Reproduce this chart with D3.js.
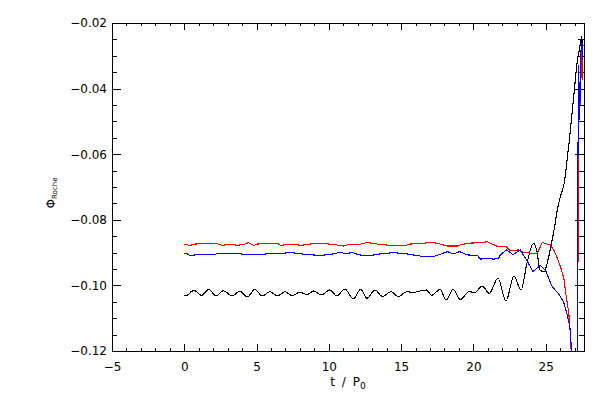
<!DOCTYPE html>
<html>
<head>
<meta charset="utf-8">
<script src="https://cdn.jsdelivr.net/npm/d3@7"></script>
<style>
  html, body { margin: 0; padding: 0; background: #fff; }
  svg { display: block; }
  text { font-family: "DejaVu Sans", "Liberation Sans", sans-serif; fill: #000; }
</style>
</head>
<body>
<svg id="chart" width="600" height="400"></svg>
<script>
// ---- data ----
const xTicks = [-5, 0, 5, 10, 15, 20, 25];
const yTicks = [-0.12, -0.10, -0.08, -0.06, -0.04, -0.02];

const blackT = [0, 0.3, 0.45, 0.72, 1.2, 1.68, 2.22, 2.7, 3.3, 3.84, 4.37, 4.88, 5.4, 5.92, 6.45, 6.98, 7.44, 8.0, 8.5, 8.94, 9.5, 10.05, 10.56, 11.1, 11.7, 12.2, 12.64, 13.2, 13.7, 14.3, 14.8, 15.4, 15.8, 16.2, 16.75, 17.1, 17.7, 18.1, 18.6, 19.1, 19.7, 20.1, 20.6, 21.1, 21.7, 22.25, 22.8, 23.3, 23.7, 24.15, 24.4, 24.6, 24.9, 25.1, 25.35, 25.6, 25.8, 26.05, 26.3, 26.4, 26.6, 26.85, 27.0, 27.2, 27.35, 27.45, 27.48, 27.52];
const blackY = [-0.1031, -0.1028, -0.1020, -0.1016, -0.1031, -0.1012, -0.1032, -0.1016, -0.1032, -0.1018, -0.1035, -0.1012, -0.1032, -0.1019, -0.1032, -0.1019, -0.1031, -0.1021, -0.1028, -0.1017, -0.1029, -0.1014, -0.1032, -0.1011, -0.1041, -0.1012, -0.1039, -0.1014, -0.1034, -0.1019, -0.1034, -0.1019, -0.1022, -0.1018, -0.1014, -0.1030, -0.1012, -0.1045, -0.1012, -0.1043, -0.1019, -0.1022, -0.1002, -0.1024, -0.0978, -0.1048, -0.0972, -0.1014, -0.0933, -0.0872, -0.0897, -0.0953, -0.0958, -0.0933, -0.0882, -0.0826, -0.0770, -0.0724, -0.0684, -0.0648, -0.0572, -0.0465, -0.0396, -0.0313, -0.0276, -0.0249, -0.0359, -0.0250];

const redT = [0, 0.4, 0.75, 2.13, 2.6, 3.17, 3.66, 4.2, 4.42, 4.83, 5.04, 6.43, 6.64, 7.53, 8.02, 8.71, 9.2, 10.3, 11.0, 11.5, 12.2, 12.66, 13.35, 14.0, 15.4, 15.6, 16.3, 17.2, 17.8, 18.2, 18.9, 19.2, 19.8, 20.5, 20.97, 21.7, 22.2, 22.56, 23.1, 23.46, 24.16, 24.44, 24.76, 25.1, 25.33, 25.56, 25.8, 26.02, 26.25, 26.42, 26.6, 26.72, 26.79, 27.2, 27.27, 27.33, 27.4, 27.46, 27.52, 27.58];
const redY = [-0.0875, -0.0878, -0.0874, -0.0871, -0.0878, -0.0874, -0.0878, -0.0874, -0.0870, -0.0878, -0.0874, -0.0871, -0.0878, -0.0874, -0.0878, -0.0874, -0.0871, -0.0875, -0.0880, -0.0874, -0.0874, -0.0869, -0.0874, -0.0877, -0.0877, -0.0874, -0.0872, -0.0869, -0.0875, -0.0880, -0.0880, -0.0875, -0.0871, -0.0870, -0.0867, -0.0882, -0.0880, -0.0894, -0.0892, -0.0899, -0.0903, -0.0901, -0.0869, -0.0874, -0.0877, -0.0892, -0.0917, -0.0943, -0.0977, -0.1034, -0.1085, -0.1157, -0.1227, -0.1300, -0.0526, -0.0420, -0.0450, -0.0282, -0.0374, -0.0267];

const blueT = [0, 0.17, 0.28, 0.59, 0.87, 1.65, 2.25, 2.94, 3.86, 4.9, 5.71, 6.7, 7.44, 7.79, 8.37, 9.4, 10.3, 10.79, 11.25, 11.6, 12.06, 12.87, 13.56, 14.48, 15.4, 16.1, 16.68, 17.23, 17.7, 18.2, 18.64, 19.03, 19.58, 20.28, 20.48, 20.97, 21.4, 21.75, 21.87, 22.29, 22.74, 23.25, 23.72, 24.12, 24.62, 24.99, 25.45, 25.9, 26.25, 26.49, 26.67, 26.79, 26.86, 27.18, 27.22, 27.28, 27.35, 27.42, 27.5, 27.58];
const blueY = [-0.0904, -0.0902, -0.0907, -0.0909, -0.0905, -0.0907, -0.0904, -0.0902, -0.0904, -0.0907, -0.0904, -0.0903, -0.0899, -0.0903, -0.0905, -0.0909, -0.0904, -0.0899, -0.0904, -0.0899, -0.0907, -0.0909, -0.0904, -0.0900, -0.0904, -0.0909, -0.0913, -0.0912, -0.0905, -0.0897, -0.0904, -0.0897, -0.0907, -0.0909, -0.0920, -0.0917, -0.0920, -0.0917, -0.0907, -0.0892, -0.0906, -0.0892, -0.0926, -0.0958, -0.0939, -0.0954, -0.1004, -0.1026, -0.1052, -0.1090, -0.1126, -0.1197, -0.1258, -0.1300, -0.0679, -0.0328, -0.0496, -0.0298, -0.0252, -0.0313];

// ---- layout ----
const svg = d3.select("#chart");
const L = 112, R = 584, T = 23, B = 351;
const x = d3.scaleLinear().domain([-5, 27.65]).range([L, R]);
const y = d3.scaleLinear().domain([-0.12, -0.02]).range([B, T]);

const xMinor = d3.range(-5, 28, 1).filter(v => v % 5 !== 0);
const yMinor = d3.range(0, 21).map(i => -0.12 + i * 0.005).filter((v, i) => i % 4 !== 0);

const xLen = 6.6, yLen = 9.4;

function axisGroup(axis, transform, keepDomain) {
  const g = svg.append("g").attr("transform", transform).call(axis);
  if (!keepDomain) g.select(".domain").remove();
  g.selectAll("line, path").attr("stroke", "#000").attr("shape-rendering", "crispEdges");
  g.selectAll("text").attr("font-size", 12).attr("font-family", "'DejaVu Sans', sans-serif").attr("fill", "#000");
  return g;
}

// bottom
axisGroup(d3.axisBottom(x).tickValues(xTicks).tickSizeInner(-xLen).tickSizeOuter(0).tickPadding(11).tickFormat(d3.format("d")), `translate(0,${B})`, true);
axisGroup(d3.axisBottom(x).tickValues(xMinor).tickSize(-xLen / 2).tickFormat(""), `translate(0,${B})`, false);
// top
axisGroup(d3.axisTop(x).tickValues(xTicks).tickSizeInner(-xLen).tickSizeOuter(0).tickFormat(""), `translate(0,${T})`, true);
axisGroup(d3.axisTop(x).tickValues(xMinor).tickSize(-xLen / 2).tickFormat(""), `translate(0,${T})`, false);
// left
axisGroup(d3.axisLeft(y).tickValues(yTicks).tickSizeInner(-yLen).tickSizeOuter(0).tickPadding(5).tickFormat(d3.format(".2f")), `translate(${L},0)`, true);
axisGroup(d3.axisLeft(y).tickValues(yMinor).tickSize(-yLen / 2).tickFormat(""), `translate(${L},0)`, false);
// right
axisGroup(d3.axisRight(y).tickValues(yTicks).tickSizeInner(-yLen).tickSizeOuter(0).tickFormat(""), `translate(${R},0)`, true);
axisGroup(d3.axisRight(y).tickValues(yMinor).tickSize(-yLen / 2).tickFormat(""), `translate(${R},0)`, false);

// clip
svg.append("defs").append("clipPath").attr("id", "plotclip")
  .append("rect").attr("x", L).attr("y", T).attr("width", R - L + 1).attr("height", B - T + 1);

const plot = svg.append("g").attr("clip-path", "url(#plotclip)");

function series(ts, ys, color, curve) {
  const pts = ts.map((t, i) => [t, ys[i]]);
  const line = d3.line().x(d => x(d[0])).y(d => y(d[1])).curve(curve);
  plot.append("path").datum(pts)
    .attr("d", line)
    .attr("fill", "none")
    .attr("stroke", color)
    .attr("stroke-width", 1.1)
    .attr("shape-rendering", "crispEdges");
}

series(blackT, blackY, "#000000", d3.curveMonotoneX);
series(redT, redY, "#ff0000", d3.curveLinear);
series(blueT, blueY, "#0000ff", d3.curveLinear);

// small "+" marker at the top of the black curve
const lastI = blackT.length - 3;
const mx = x(blackT[lastI]), my = y(blackY[lastI]);
plot.append("path")
  .attr("d", `M${mx - 3},${my}H${mx + 3}M${mx},${my - 3}V${my + 3}`)
  .attr("stroke", "#000").attr("stroke-width", 1).attr("shape-rendering", "crispEdges");

// axis titles
const xt = svg.append("text")
  .attr("x", (L + R) / 2).attr("y", 386)
  .attr("text-anchor", "middle").attr("font-size", 12)
  .attr("word-spacing", "3px");
xt.append("tspan").text("t / P");
xt.append("tspan").attr("font-size", 9).attr("dy", 3).text("0");

const yt = svg.append("text")
  .attr("transform", `translate(55,${(T + B) / 2 + 6}) rotate(-90)`)
  .attr("text-anchor", "middle").attr("font-size", 12);
yt.append("tspan").text("Φ");
yt.append("tspan").attr("font-size", 7).attr("dy", 2).text("Roche");
</script>
</body>
</html>
